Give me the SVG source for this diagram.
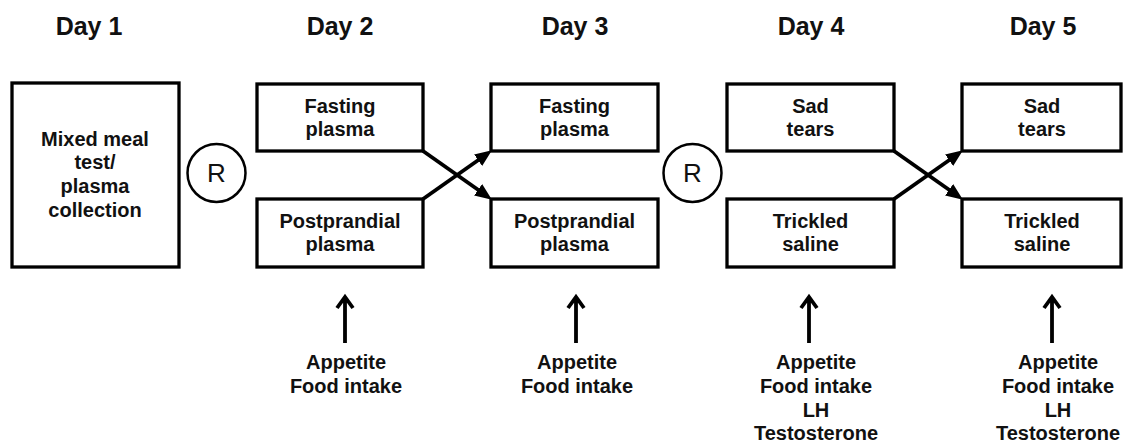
<svg xmlns="http://www.w3.org/2000/svg" width="1124" height="444" viewBox="0 0 1124 444">
<style>
.box{fill:#fff;stroke:#000;stroke-width:3.3}
.circ{fill:#fff;stroke:#000;stroke-width:2.5}
.t{font-family:"Liberation Sans",Arial,sans-serif;font-weight:bold;font-size:20px;fill:#111;text-anchor:middle}
.h{font-family:"Liberation Sans",Arial,sans-serif;font-weight:bold;font-size:25px;fill:#111;text-anchor:middle}
.r{font-family:"Liberation Sans",Arial,sans-serif;font-size:26px;fill:#111;text-anchor:middle}
.ln{fill:none;stroke:#000;stroke-width:3.8}
.up{fill:none;stroke:#000;stroke-width:3.8;stroke-linejoin:miter}
</style>
<defs>
<marker id="ah" markerUnits="userSpaceOnUse" markerWidth="17" markerHeight="15" refX="6" refY="7" orient="auto">
<path d="M0,0 L17,7 L0,14 z" fill="#000"/>
</marker>
</defs>
<rect width="1124" height="444" fill="#fff"/>
<g id="headers">
<text class="h" x="89" y="35">Day 1</text>
<text class="h" x="340" y="35">Day 2</text>
<text class="h" x="575" y="35">Day 3</text>
<text class="h" x="811" y="35">Day 4</text>
<text class="h" x="1043" y="35">Day 5</text>
</g>
<g id="day1">
<rect class="box" x="12" y="83" width="167" height="184"/>
<text class="t" x="95" y="146">Mixed meal</text>
<text class="t" x="95" y="169">test/</text>
<text class="t" x="95" y="193">plasma</text>
<text class="t" x="95" y="217">collection</text>
</g>
<g id="r1">
<circle class="circ" cx="216.5" cy="173" r="29"/>
<text class="r" x="216.5" y="182">R</text>
</g>
<g id="day2-fasting">
<rect class="box" x="257" y="84" width="166" height="67"/>
<text class="t" x="340" y="113">Fasting</text>
<text class="t" x="340" y="136">plasma</text>
</g>
<g id="day2-post">
<rect class="box" x="257" y="199" width="166" height="68"/>
<text class="t" x="340" y="228">Postprandial</text>
<text class="t" x="340" y="251">plasma</text>
</g>
<g id="day3-fasting">
<rect class="box" x="491" y="84" width="167" height="67"/>
<text class="t" x="574.5" y="113">Fasting</text>
<text class="t" x="574.5" y="136">plasma</text>
</g>
<g id="day3-post">
<rect class="box" x="491" y="199" width="167" height="68"/>
<text class="t" x="574.5" y="228">Postprandial</text>
<text class="t" x="574.5" y="251">plasma</text>
</g>
<g id="r2">
<circle class="circ" cx="692.5" cy="173" r="29"/>
<text class="r" x="692.5" y="182">R</text>
</g>
<g id="day4-sad">
<rect class="box" x="727" y="84" width="167" height="67"/>
<text class="t" x="810.5" y="113">Sad</text>
<text class="t" x="810.5" y="136">tears</text>
</g>
<g id="day4-saline">
<rect class="box" x="727" y="199" width="167" height="68"/>
<text class="t" x="810.5" y="228">Trickled</text>
<text class="t" x="810.5" y="251">saline</text>
</g>
<g id="day5-sad">
<rect class="box" x="962" y="84" width="159" height="67"/>
<text class="t" x="1042" y="113">Sad</text>
<text class="t" x="1042" y="136">tears</text>
</g>
<g id="day5-saline">
<rect class="box" x="962" y="199" width="159" height="68"/>
<text class="t" x="1042" y="228">Trickled</text>
<text class="t" x="1042" y="251">saline</text>
</g>
<g id="measures">
<text class="t" x="346" y="369">Appetite</text>
<text class="t" x="346" y="393">Food intake</text>
<text class="t" x="577" y="369">Appetite</text>
<text class="t" x="577" y="393">Food intake</text>
<text class="t" x="816" y="369">Appetite</text>
<text class="t" x="816" y="393">Food intake</text>
<text class="t" x="816" y="417">LH</text>
<text class="t" x="816" y="440">Testosterone</text>
<text class="t" x="1058" y="369">Appetite</text>
<text class="t" x="1058" y="393">Food intake</text>
<text class="t" x="1058" y="417">LH</text>
<text class="t" x="1058" y="440">Testosterone</text>
</g>
<g id="connectors">
<line class="ln" x1="423" y1="151" x2="483" y2="193.3" marker-end="url(#ah)"/>
<line class="ln" x1="423" y1="199" x2="483" y2="156.7" marker-end="url(#ah)"/>
<line class="ln" x1="894" y1="151" x2="954" y2="193.3" marker-end="url(#ah)"/>
<line class="ln" x1="894" y1="199" x2="954" y2="156.7" marker-end="url(#ah)"/>
<path class="up" d="M345,343 V298 M337,308 L345,297 L353,308"/>
<path class="up" d="M576,343 V298 M568,308 L576,297 L584,308"/>
<path class="up" d="M809,343 V298 M801,308 L809,297 L817,308"/>
<path class="up" d="M1052,343 V298 M1044,308 L1052,297 L1060,308"/>
</g>
</svg>
